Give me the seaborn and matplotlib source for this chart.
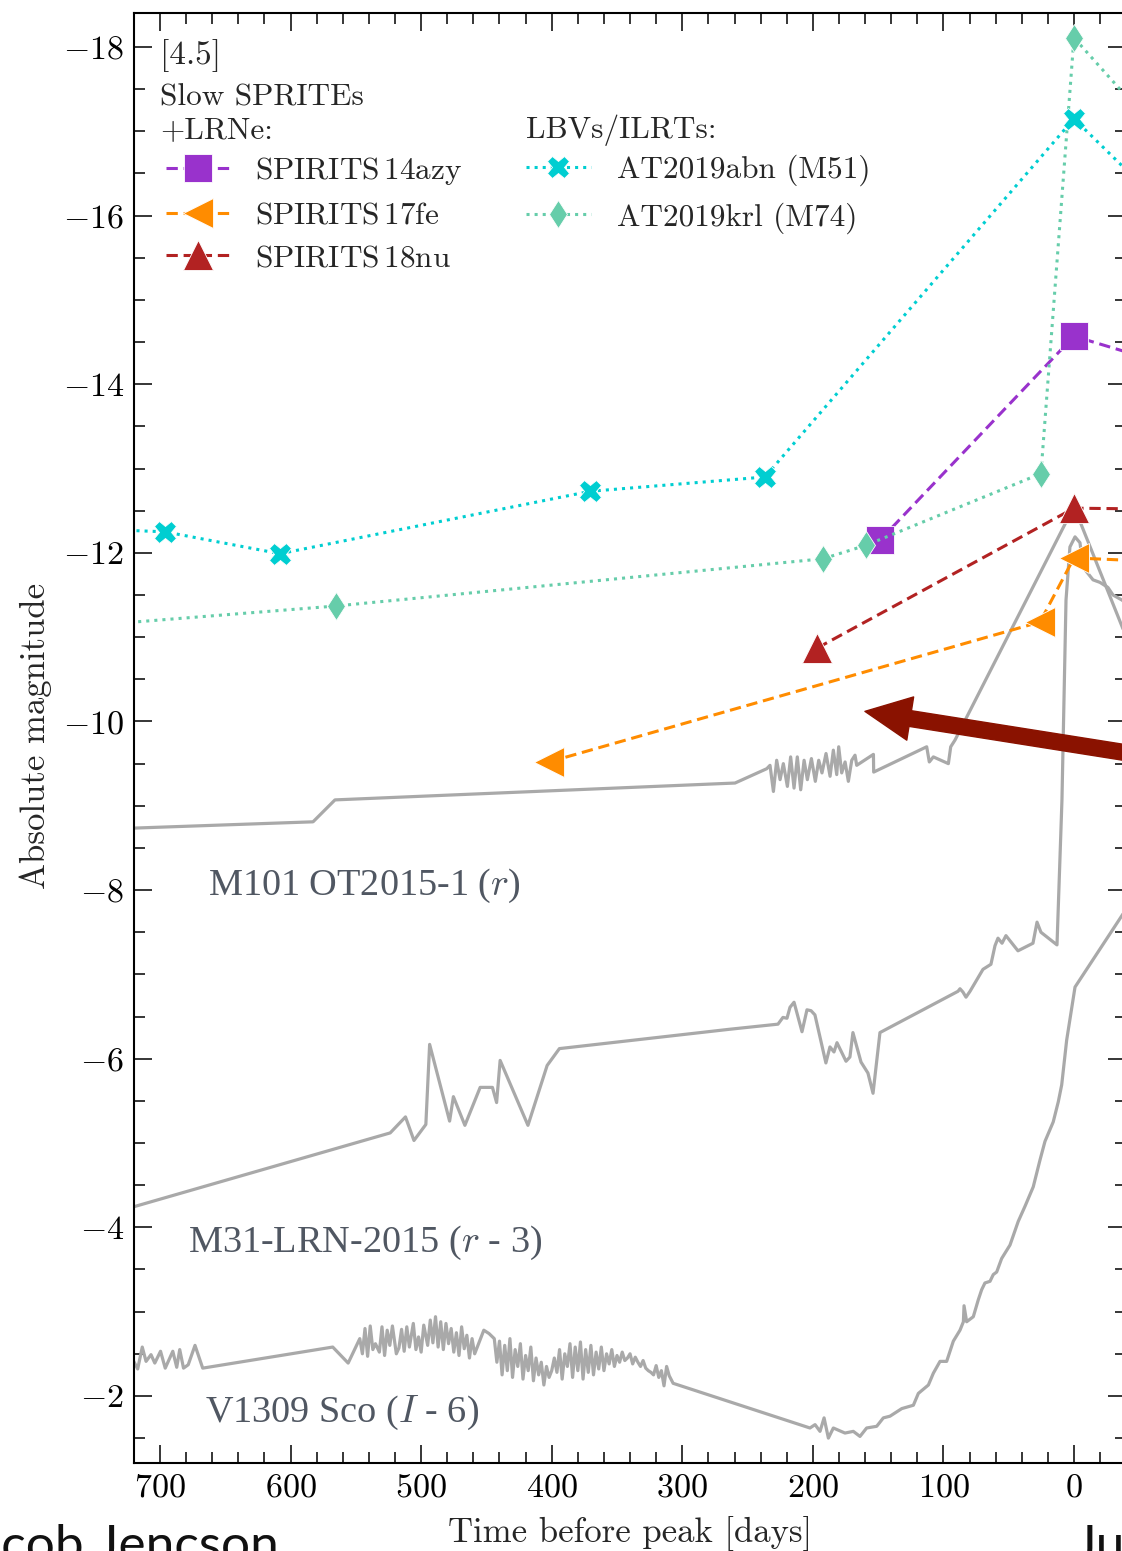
import matplotlib
matplotlib.use("Agg")
import matplotlib.pyplot as plt
import seaborn as sns
from matplotlib.ticker import MultipleLocator, FixedLocator, FuncFormatter

# ------------------------------------------------------------------ data
x_major_ticks = [700, 600, 500, 400, 300, 200, 100, 0]
y_major_ticks = [-18, -16, -14, -12, -10, -8, -6, -4, -2]

labels_main = ["SPIRITS$\\,$14azy", "SPIRITS$\\,$17fe", "SPIRITS$\\,$18nu"]
labels_lbv = ["AT2019abn (M51)", "AT2019krl (M74)"]

azy_days = [148.6, 0.0, -60.0]
azy_mag = [-12.15, -14.57, -14.29]

fe_days = [402.1, 26.0, 0.0, -60.0]
fe_mag = [-9.52, -11.18, -11.94, -11.90]

nu_days = [196.8, 0.0, -60.0]
nu_mag = [-10.87, -12.53, -12.52]

abn_days = [780.0, 696.2, 608.1, 370.7, 236.7, 0.0, -60.0]
abn_mag = [-12.30, -12.25, -11.99, -12.73, -12.90, -17.15, -16.24]

krl_days = [760.0, 565.2, 192.2, 159.3, 25.3, 0.0, -60.0]
krl_mag = [-11.13, -11.37, -11.93, -12.09, -12.94, -18.11, -17.07]

m101_days = [730.0, 582.8, 566.0, 259.6, 235.3, 232.8, 230.2, 227.7, 225.1, 222.6,
             219.5, 217.0, 214.4, 211.9, 209.3, 206.7, 204.2, 201.1, 198.1, 195.5,
             193.0, 189.9, 186.8, 184.3, 181.7, 180.2, 177.9, 175.3, 172.8, 170.2,
             167.7, 166.4, 153.6, 153.4, 112.8, 110.8, 107.7, 96.2, 94.4, 91.1,
             0.0, -45.0]
m101_mag = [-8.73, -8.81, -9.07, -9.27, -9.44, -9.48, -9.17, -9.54, -9.31, -9.50,
            -9.23, -9.58, -9.21, -9.58, -9.19, -9.54, -9.31, -9.56, -9.29, -9.54,
            -9.39, -9.62, -9.35, -9.66, -9.37, -9.70, -9.39, -9.52, -9.29, -9.54,
            -9.60, -9.48, -9.61, -9.40, -9.70, -9.52, -9.58, -9.50, -9.70, -9.78,
            -12.55, -10.81]

m31_days = [730.0, 523.7, 512.0, 505.5, 496.4, 493.5, 478.2, 475.3, 466.5, 454.8,
            445.4, 442.2, 439.5, 418.2, 403.5, 394.1, 263.4, 226.7, 222.9, 219.8,
            217.5, 214.4, 208.3, 204.5, 201.4, 198.4, 190.0, 186.9, 183.8, 181.5,
            174.6, 171.6, 169.3, 163.1, 157.8, 153.9, 148.6, 88.8, 87.3, 85.0,
            82.7, 79.6, 69.7, 63.6, 60.5, 58.2, 55.1, 52.1, 42.9, 31.4,
            28.3, 25.3, 13.0, 9.2, 6.1, 3.1, -0.8, -4.6, -6.9, -14.6,
            -19.9, -26.0, -29.9, -36.8, -46.7]
m31_mag = [-4.20, -5.12, -5.31, -5.03, -5.22, -6.17, -5.26, -5.55, -5.21, -5.66,
           -5.66, -5.48, -5.98, -5.21, -5.92, -6.12, -6.35, -6.41, -6.49, -6.48,
           -6.61, -6.67, -6.32, -6.58, -6.57, -6.52, -5.95, -6.14, -6.08, -6.19,
           -5.97, -6.02, -6.31, -5.96, -5.83, -5.59, -6.31, -6.80, -6.83, -6.79,
           -6.73, -6.80, -7.06, -7.12, -7.34, -7.43, -7.37, -7.46, -7.28, -7.37,
           -7.62, -7.50, -7.35, -9.07, -11.44, -12.07, -12.19, -12.12, -11.83, -11.68,
           -11.65, -11.59, -11.50, -11.44, -11.32]

v1309_days = [724.0, 720.1, 717.1, 713.6, 710.7, 706.9, 704.0, 699.6, 696.0, 693.1,
              690.2, 687.2, 684.9, 682.0, 678.4, 673.2, 667.3, 567.7, 555.9,
              547, 545, 543, 541, 539, 537, 535, 532, 530, 528, 526, 524, 522, 519,
              517, 515, 513, 511, 509, 506, 504, 502, 500, 498, 495, 493, 491, 489,
              487, 485, 483, 481, 479, 477, 475, 473, 471, 469, 467, 465, 463, 461,
              459, 452, 448, 444,
              442, 440, 438, 436, 434, 432, 430, 428, 426, 424, 422, 420, 418, 416,
              414, 412, 410, 408, 406, 404, 402, 400,
              398, 396, 394, 392, 390, 388, 386, 384, 382, 380, 378, 376, 374, 372,
              370, 368, 366, 364, 362, 360, 358, 356, 354, 352, 350, 348, 346, 344,
              342, 340, 338, 336, 334, 332, 330, 328, 326, 324, 322, 320, 318, 316,
              314, 312, 310, 308, 307,
              202.2, 198.3, 194.5, 191.4, 188.1, 184.3, 175.4, 169.0, 163.9, 158.8,
              151.1, 146.0, 140.9, 131.9, 123.0, 119.2, 111.5, 107.7, 102.6, 97.5,
              92.4, 87.3, 84.7, 84.2, 82.2, 77.1, 73.3, 70.7, 68.2, 64.3,
              61.8, 59.2, 55.4, 49.0, 42.7, 37.5, 31.2, 26.0, 22.2, 15.9,
              12.0, 9.4, 5.6, -0.8, -36.8, -45.0]
v1309_mag = [-2.50, -2.41, -2.32, -2.58, -2.41, -2.49, -2.39, -2.53, -2.33, -2.43,
             -2.53, -2.34, -2.55, -2.33, -2.37, -2.60, -2.33, -2.58, -2.39,
             -2.68, -2.50, -2.80, -2.47, -2.83, -2.55, -2.62, -2.52, -2.82, -2.48,
             -2.78, -2.60, -2.83, -2.50, -2.57, -2.79, -2.53, -2.82, -2.58, -2.86,
             -2.55, -2.70, -2.52, -2.84, -2.60, -2.90, -2.63, -2.94, -2.58, -2.88,
             -2.55, -2.86, -2.62, -2.80, -2.52, -2.75, -2.48, -2.82, -2.56, -2.72,
             -2.45, -2.68, -2.50, -2.78, -2.74, -2.68,
             -2.40, -2.65, -2.25, -2.60, -2.30, -2.68, -2.22, -2.55, -2.35, -2.62,
             -2.20, -2.48, -2.30, -2.58, -2.18, -2.45, -2.25, -2.40, -2.13, -2.35,
             -2.22, -2.30,
             -2.45, -2.28, -2.55, -2.20, -2.50, -2.35, -2.62, -2.22, -2.58, -2.30,
             -2.64, -2.20, -2.55, -2.28, -2.60, -2.25, -2.52, -2.32, -2.58, -2.30,
             -2.50, -2.38, -2.55, -2.35, -2.48, -2.40, -2.52, -2.42,
             -2.45, -2.50, -2.38, -2.46, -2.40, -2.35, -2.42, -2.33, -2.30, -2.28,
             -2.25, -2.36, -2.22, -2.30, -2.12, -2.35, -2.24, -2.18, -2.15,
             -1.62, -1.66, -1.58, -1.74, -1.50, -1.62, -1.56, -1.58, -1.52, -1.62,
             -1.64, -1.74, -1.76, -1.85, -1.89, -2.03, -2.13, -2.27, -2.41, -2.41,
             -2.65, -2.78, -2.88, -3.07, -2.88, -2.94, -3.14, -3.26, -3.34, -3.36,
             -3.44, -3.47, -3.63, -3.79, -4.07, -4.25, -4.48, -4.80, -5.02, -5.25,
             -5.49, -5.69, -6.22, -6.85, -7.70, -7.89]

arrow_tip = (160.1, -10.12)
arrow_tail = (-60.0, -9.58)

# ------------------------------------------------------------------ style
sns.set_theme(style="ticks")
plt.rcParams["font.family"] = ["cmr10", "DejaVu Serif"]
plt.rcParams["mathtext.fontset"] = "cm"
plt.rcParams["axes.unicode_minus"] = True
plt.rcParams["axes.linewidth"] = 1.5

W, H = 1122, 1551
fig = plt.figure(figsize=(W / 100, H / 100), dpi=100)
ax_l, ax_r, ax_t, ax_b = 133.9, 1126.2, 13.3, 1463.4
ax = fig.add_axes([ax_l / W, 1 - ax_b / H, (ax_r - ax_l) / W, (ax_b - ax_t) / H])


def fx(px):
    return px / W


def fy(py):
    return 1 - py / H


GRAY = "#a9a9a9"
for d, m in [(m101_days, m101_mag), (m31_days, m31_mag), (v1309_days, v1309_mag)]:
    sns.lineplot(x=d, y=m, ax=ax, color=GRAY, linewidth=2.3, sort=False,
                 estimator=None, legend=False, zorder=2)

DASH = (0, (3.7, 1.9))
DOT = (0, (1, 1.65))


def series(days, mags, color, marker, ms, ls):
    sns.lineplot(x=days, y=mags, ax=ax, color=color, marker=marker, markersize=ms,
                 linestyle=ls, linewidth=2.2, sort=False, estimator=None,
                 legend=False, zorder=3, markeredgewidth=0.6)
    return ax.lines[-1]


h_azy = series(azy_days, azy_mag, "#9932cc", "s", 20, DASH)
h_fe = series(fe_days, fe_mag, "#ff8c00", "<", 21, DASH)
h_nu = series(nu_days, nu_mag, "#b22222", "^", 21, DASH)
h_krl = series(krl_days, krl_mag, "#66cdaa", "d", 14.5, DOT)
h_abn = series(abn_days, abn_mag, "#00ced1", "X", 16, DOT)

ax.annotate("", xy=arrow_tip, xytext=arrow_tail, annotation_clip=False,
            arrowprops=dict(arrowstyle="simple,head_length=1.1,head_width=1.05,tail_width=0.38",
                            color="#8a1200", shrinkA=0, shrinkB=0, mutation_scale=30),
            zorder=6)

ax.set_xlim(720, -40)
ax.set_ylim(-1.2, -18.4)
ax.xaxis.set_major_locator(FixedLocator(x_major_ticks))
ax.yaxis.set_major_locator(FixedLocator(y_major_ticks))
ax.xaxis.set_minor_locator(MultipleLocator(20))
ax.yaxis.set_minor_locator(MultipleLocator(0.5))
fmt = FuncFormatter(lambda v, p: "$%g$" % v)
ax.xaxis.set_major_formatter(fmt)
ax.yaxis.set_major_formatter(fmt)
ax.tick_params(which="both", direction="in", top=True, right=True, width=1.1,
               colors="black", labelsize=24.5, pad=7)
ax.tick_params(which="major", length=13)
ax.tick_params(which="minor", length=8)
for s in ax.spines.values():
    s.set_linewidth(1.5)
    s.set_color("black")

ax.set_xlabel("Time before peak [days]", fontsize=25)
ax.set_ylabel("Absolute magnitude", fontsize=25)
ax.xaxis.set_label_coords(0.5, -0.036)
ax.yaxis.set_label_coords(-0.083, 0.502)

# header texts and legends
fig.text(fx(160), fy(64), "[4.5]", fontsize=24, va="baseline", ha="left")
fig.text(fx(160), fy(105), "Slow SPRITEs", fontsize=22.5, va="baseline", ha="left")
fig.text(fx(160), fy(138), "+LRNe:", fontsize=22.5, va="baseline", ha="left")
fig.text(fx(526), fy(138), "LBVs/ILRTs:", fontsize=22.5, va="baseline", ha="left")

leg1 = ax.legend([h_azy, h_fe, h_nu], labels_main, loc="upper left",
                 bbox_to_anchor=(fx(166), fy(155)), bbox_transform=fig.transFigure,
                 frameon=False, fontsize=22.5, handlelength=2.07, handletextpad=0.78,
                 labelspacing=0.47, borderpad=0, borderaxespad=0)
ax.add_artist(leg1)
ax.legend([h_abn, h_krl], labels_lbv, loc="upper left",
          bbox_to_anchor=(fx(526), fy(155)), bbox_transform=fig.transFigure,
          frameon=False, fontsize=22.5, handlelength=2.07, handletextpad=0.83,
          labelspacing=0.5, borderpad=0, borderaxespad=0)

# object labels
TXT = "#505762"
lab_font = dict(family=["Liberation Serif", "DejaVu Serif"], fontsize=27.5, color=TXT,
                va="baseline", ha="left")
fig.text(fx(208), fy(895), "M101 OT2015-1 ($\\mathit{r}$)", **lab_font)
fig.text(fx(188), fy(1252), "M31-LRN-2015 ($\\mathit{r}$ - 3)", **lab_font)
fig.text(fx(205), fy(1422), "V1309 Sco ($\\mathit{I}$ - 6)", **lab_font)

# footer fragments
foot = dict(family=["Lato", "DejaVu Sans"], fontweight="normal", fontsize=37,
            color="#111111", va="baseline")
fig.text(fx(279), fy(1561), "Jacob Jencson", ha="right", **foot)
fig.text(fx(1074), fy(1561), "Jun", ha="left", **foot)

fig.savefig("out.png", dpi=100)
